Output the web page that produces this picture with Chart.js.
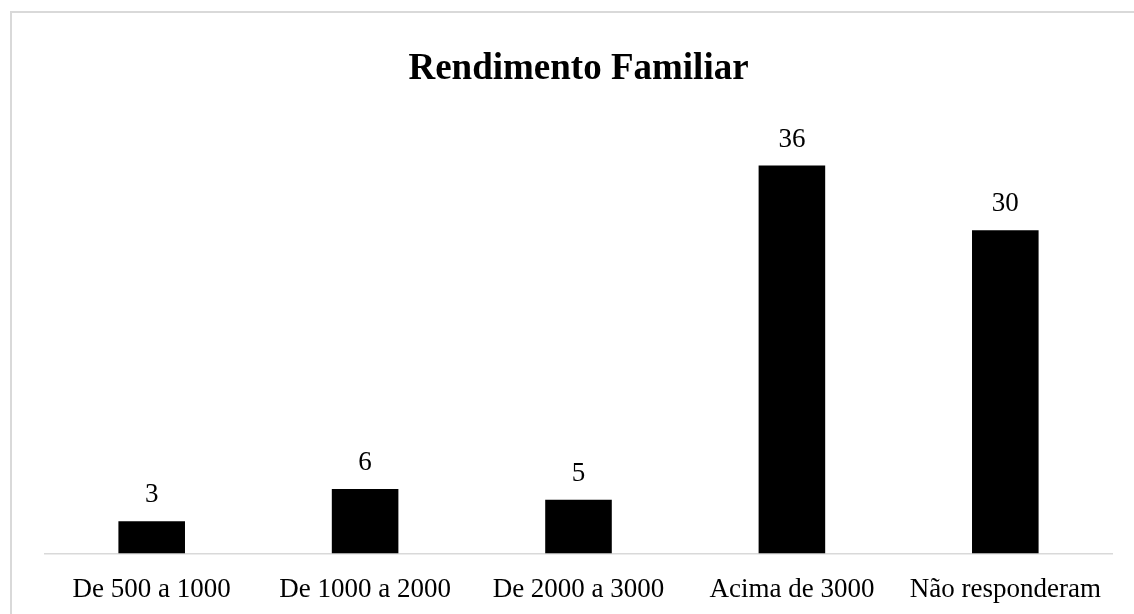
<!DOCTYPE html>
<html lang="pt">
<head>
<meta charset="utf-8">
<title>Rendimento Familiar</title>
<script src="https://cdn.jsdelivr.net/npm/chart.js@4/dist/chart.umd.min.js"></script>
<style>
    html, body { margin: 0; padding: 0; background: #fff; overflow: hidden; }
    #frame {
        position: absolute; left: 10px; top: 11px;
        width: 3000px; height: 3000px;
        border-left: 2px solid #d9d9d9;
        border-top: 2px solid #d9d9d9;
    }
    #chart { position: absolute; left: 0; top: 0; }
</style>
</head>
<body>
<div id="frame"></div>
<canvas id="chart" width="1134" height="614"></canvas>
<script>
// Chart data
const categories = ['De 500 a 1000', 'De 1000 a 2000', 'De 2000 a 3000', 'Acima de 3000', 'Não responderam'];
const values = [3, 6, 5, 36, 30];
const chartTitle = 'Rendimento Familiar';

const serif = '"Liberation Serif", "Times New Roman", serif';

// Value labels above each bar (no datalabels plugin available)
const valueLabels = {
    id: 'valueLabels',
    afterDatasetsDraw(chart) {
        const ctx = chart.ctx;
        const meta = chart.getDatasetMeta(0);
        ctx.save();
        ctx.font = '27px ' + serif;
        ctx.fillStyle = '#000';
        ctx.textAlign = 'center';
        ctx.textBaseline = 'alphabetic';
        meta.data.forEach((bar, i) => {
            ctx.fillText(String(values[i]), bar.x, bar.y - 19);
        });
        ctx.restore();
    }
};

new Chart(document.getElementById('chart'), {
    type: 'bar',
    data: {
        labels: categories,
        datasets: [{
            data: values,
            backgroundColor: '#000',
            borderWidth: 0,
            barPercentage: 0.312,
            categoryPercentage: 1
        }]
    },
    options: {
        responsive: false,
        animation: false,
        // the x scale reserves more room than its labels need, so pull the bottom in
        layout: { padding: { left: 45, right: 22, top: 0, bottom: -12 } },
        plugins: {
            legend: { display: false },
            tooltip: { enabled: false },
            title: {
                display: true,
                text: chartTitle,
                color: '#000',
                font: { family: serif, size: 37, weight: 'bold' },
                padding: { top: 47, bottom: 31 }
            }
        },
        scales: {
            x: {
                grid: { display: false, drawTicks: false },
                border: { display: true, color: '#d9d9d9', width: 1.5 },
                ticks: { color: '#000', font: { family: serif, size: 27 }, padding: 20, maxRotation: 0 }
            },
            y: {
                display: false,
                min: 0,
                max: 40
            }
        }
    },
    plugins: [valueLabels]
});
</script>
</body>
</html>
